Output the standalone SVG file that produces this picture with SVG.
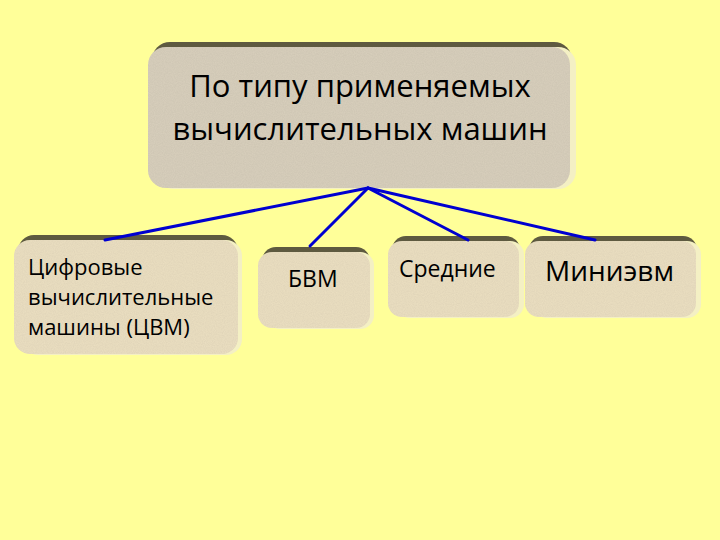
<svg xmlns="http://www.w3.org/2000/svg" width="720" height="540" viewBox="0 0 720 540">
<defs>
<style>
.bg{fill:#ffff99}
.dark{fill:#5e5a40}
.light{fill:#f4f0c4}
.face1{fill:#d9d0bd}
.face2{fill:#ece0c2}
.t{font-family:"Open Sans","DejaVu Sans",sans-serif;fill:#000}
.conn{stroke:#0000d0;stroke-width:3;fill:none;stroke-linecap:round}
</style>
<filter id="tex" x="0" y="0" width="1" height="1">
<feTurbulence type="fractalNoise" baseFrequency="0.9" numOctaves="2" seed="3" result="n"/>
<feColorMatrix in="n" type="matrix" values="0 0 0 0 0  0 0 0 0 0  0 0 0 0 0  0 0 0 0.12 0" result="a"/>
<feComposite in="a" in2="SourceGraphic" operator="in" result="b"/>
<feMerge><feMergeNode in="SourceGraphic"/><feMergeNode in="b"/></feMerge>
</filter>
</defs>
<rect class="bg" x="0" y="0" width="720" height="540"/>

<g id="top">
<rect class="dark" x="152" y="42" width="420" height="142" rx="18"/>
<rect class="light" x="156" y="47" width="420" height="142" rx="18"/>
<rect class="face1" x="148" y="47" width="422" height="141" rx="18" filter="url(#tex)"/>
<text class="t" x="360" y="97" font-size="31" text-anchor="middle">По типу применяемых</text>
<text class="t" x="360" y="140" font-size="31" text-anchor="middle">вычислительных машин</text>
</g>

<g id="cvm">
<rect class="dark" x="18" y="235" width="220" height="115" rx="16"/>
<rect class="light" x="22" y="240" width="220" height="115" rx="16"/>
<rect class="face2" x="14" y="240" width="224" height="114" rx="16" filter="url(#tex)"/>
<text class="t" x="28" y="275" font-size="22">Цифровые</text>
<text class="t" x="28" y="305" font-size="22">вычислительные</text>
<text class="t" x="28" y="335" font-size="22">машины (ЦВМ)</text>
</g>

<g id="bvm">
<rect class="dark" x="262" y="247" width="108" height="77" rx="14"/>
<rect class="light" x="266" y="252" width="108" height="77" rx="14"/>
<rect class="face2" x="258" y="252" width="112" height="76" rx="14" filter="url(#tex)"/>
<text class="t" x="288" y="287" font-size="23">БВМ</text>
</g>

<g id="sred">
<rect class="dark" x="392" y="236" width="128" height="77" rx="14"/>
<rect class="light" x="396" y="241" width="128" height="77" rx="14"/>
<rect class="face2" x="388" y="241" width="131" height="76" rx="14" filter="url(#tex)"/>
<text class="t" x="399" y="277" font-size="23">Средние</text>
</g>

<g id="mini">
<rect class="dark" x="529" y="236" width="168" height="77" rx="14"/>
<rect class="light" x="533" y="241" width="168" height="77" rx="14"/>
<rect class="face2" x="525" y="241" width="171" height="76" rx="14" filter="url(#tex)"/>
<text class="t" x="545" y="281" font-size="28">Миниэвм</text>
</g>

<g id="connectors">
<line class="conn" x1="368" y1="188" x2="105" y2="240"/>
<line class="conn" x1="368" y1="188" x2="310" y2="246"/>
<line class="conn" x1="368" y1="188" x2="468" y2="240"/>
<line class="conn" x1="368" y1="188" x2="595" y2="240"/>
</g>
</svg>
